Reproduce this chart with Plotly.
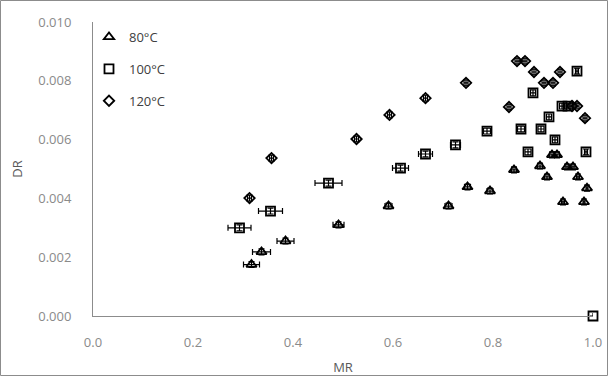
import plotly.graph_objects as go

# Drying rate (DR) versus moisture ratio (MR) at three air temperatures
labels = ["80°C", "100°C", "120°C"]

mr_80 = [0.317, 0.337, 0.385, 0.491, 0.591, 0.711, 0.749, 0.794, 0.842, 0.894,
         0.908, 0.918, 0.928, 0.948, 0.960, 0.970, 0.988, 0.940, 0.982]
dr_80 = [0.00175, 0.00218, 0.00255, 0.00310, 0.00374, 0.00374, 0.00439, 0.00425,
         0.00497, 0.00510, 0.00473, 0.00548, 0.00548, 0.00507, 0.00507, 0.00473,
         0.00435, 0.00388, 0.00388]
mr_err_80 = [0.016, 0.018, 0.017, 0.011, 0.007, 0.007, 0.006, 0.006, 0.005, 0.005,
             0.005, 0.005, 0.005, 0.004, 0.004, 0.003, 0.002, 0.003, 0.002]
dr_err_80 = [0.0001] * len(dr_80)

mr_100 = [0.293, 0.355, 0.471, 0.615, 0.665, 0.725, 0.788, 0.856, 0.870, 0.896,
          0.912, 0.924, 0.880, 0.938, 0.950, 0.968, 0.986, 1.000]
dr_100 = [0.00300, 0.00357, 0.00452, 0.00503, 0.00551, 0.00582, 0.00629, 0.00636,
          0.00558, 0.00636, 0.00677, 0.00599, 0.00759, 0.00714, 0.00714, 0.00833,
          0.00558, 0.00000]
mr_err_100 = [0.023, 0.024, 0.027, 0.016, 0.014, 0.010, 0.007, 0.007, 0.006, 0.006,
              0.005, 0.005, 0.005, 0.005, 0.004, 0.003, 0.003, 0.0]
dr_err_100 = [0.0001] * (len(dr_100) - 1) + [0.0]

mr_120 = [0.313, 0.357, 0.527, 0.593, 0.665, 0.746, 0.832, 0.848, 0.864, 0.882,
          0.902, 0.920, 0.934, 0.958, 0.968, 0.984]
dr_120 = [0.00401, 0.00537, 0.00602, 0.00684, 0.00741, 0.00793, 0.00711, 0.00867,
          0.00867, 0.00830, 0.00793, 0.00793, 0.00830, 0.00714, 0.00714, 0.00673]
mr_err_120 = [0.004] * len(mr_120)
dr_err_120 = [0.0001] * len(dr_120)

x_ticks = [0.0, 0.2, 0.4, 0.6, 0.8, 1.0]
x_tick_text = ["0.0", "0.2", "0.4", "0.6", "0.8", "1.0"]
y_ticks = [0.000, 0.002, 0.004, 0.006, 0.008, 0.010]
y_tick_text = ["0.000", "0.002", "0.004", "0.006", "0.008", "0.010"]

series = [
    (labels[0], mr_80, dr_80, mr_err_80, dr_err_80, "triangle-up-open", 9),
    (labels[1], mr_100, dr_100, mr_err_100, dr_err_100, "square-open", 9),
    (labels[2], mr_120, dr_120, mr_err_120, dr_err_120, "diamond-open", 8),
]

fig = go.Figure()
for i, (name, xs, ys, xe, ye, sym, sz) in enumerate(series):
    fig.add_trace(go.Scatter(
        x=xs, y=ys, name=name, mode="markers", legendgroup=f"g{i}",
        cliponaxis=False,
        marker=dict(symbol=sym, size=sz, color="black", line=dict(width=1.8, color="black")),
        error_x=dict(type="data", array=xe, visible=True, color="black", thickness=1.2, width=3),
        error_y=dict(type="data", array=ye, visible=True, color="black", thickness=1.2, width=3),
    ))

axis_font = dict(family="Open Sans, sans-serif", size=13, color="#8a8a8a")
title_font = dict(family="Open Sans, sans-serif", size=13, color="#595959")

fig.update_layout(
    width=608, height=376,
    margin=dict(l=93, r=15, t=22, b=60),
    paper_bgcolor="white", plot_bgcolor="white",
    showlegend=True,
    legend=dict(
        x=-0.008, y=1.0, xanchor="left", yanchor="top",
        font=dict(family="Open Sans, sans-serif", size=13, color="#404040"),
        bgcolor="rgba(0,0,0,0)", tracegroupgap=12,
    ),
    xaxis=dict(
        range=[0, 1], tickvals=x_ticks, ticktext=x_tick_text, automargin=False,
        showgrid=False, zeroline=False, showline=True, linecolor="#8c8c8c", linewidth=1,
        ticks="", ticklabelstandoff=14, tickfont=axis_font,
        title=dict(text="MR", font=title_font, standoff=13),
    ),
    yaxis=dict(
        range=[0, 0.010], tickvals=y_ticks, ticktext=y_tick_text, automargin=False,
        showgrid=False, zeroline=False, showline=True, linecolor="#8c8c8c", linewidth=1,
        ticks="", ticklabelstandoff=18, tickfont=axis_font,
        title=dict(text="DR", font=title_font, standoff=12),
    ),
    shapes=[dict(
        type="rect", xref="paper", yref="paper",
        x0=(0.5 - 93) / 500, x1=(607.5 - 93) / 500,
        y0=(316 - 375.5) / 294, y1=(316 - 0.5) / 294,
        line=dict(color="#8c8c8c", width=1), fillcolor="rgba(0,0,0,0)", layer="below",
    )],
)

fig.write_html("out.html")
